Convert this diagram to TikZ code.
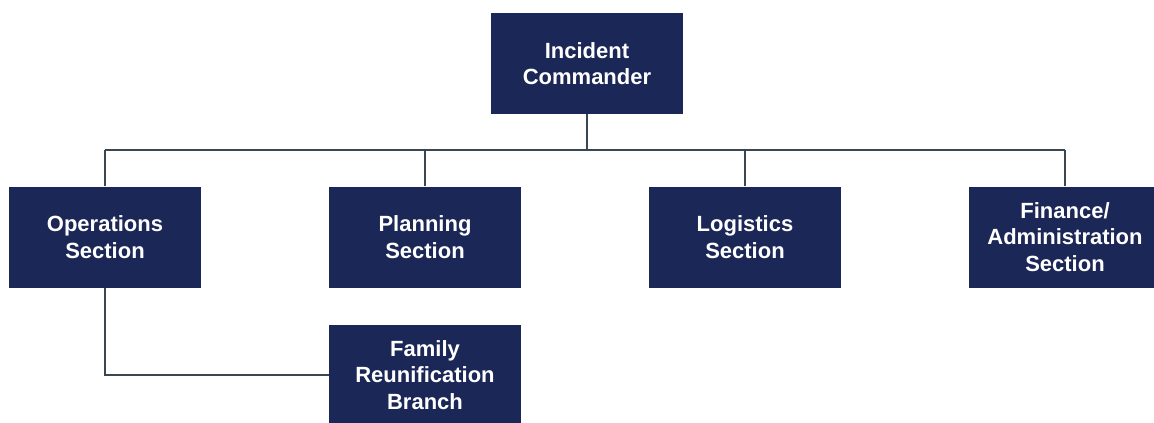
\documentclass[tikz,border=0pt]{standalone}
\usepackage{fontspec}
\setmainfont{Liberation Sans}
\usepackage{tikz}

\definecolor{navy}{HTML}{1B2756}
\definecolor{wire}{HTML}{3A4650}

\tikzset{
    unit/.style={fill=navy, text=white, minimum width=144pt, minimum height=75.75pt,
        align=center, font=\fontsize{16.5}{20}\selectfont\bfseries, inner sep=0pt},
    link/.style={draw=wire, line width=1.6pt}
}

\begin{document}
\begin{tikzpicture}[x=0.75pt, y=-0.75pt]
    \useasboundingbox (0, 0) rectangle (1154, 422);

    \node[unit] (ic) at (587, 63.5) {Incident\\Commander};
    \node[unit] (ops) at (105, 237) {Operations\\Section};
    \node[unit] (plan) at (425, 237) {Planning\\Section};
    \node[unit] (log) at (745, 237) {Logistics\\Section};
    \node[unit] (fin) at (1065, 237) {Finance/\\Administration\\Section};
    \node[unit] (fam) at (425, 375) {Family\\Reunification\\Branch};

    \coordinate (bus) at (587, 150);
    \draw[link] (ic.south) -- (bus);
    \draw[link] (ops.north |- bus) -- (fin.north |- bus);
    \foreach \n in {ops, plan, log, fin}
        \draw[link] (\n.north |- bus) -- (\n.north);
    \draw[link] (ops.south) |- (fam.west);
\end{tikzpicture}
\end{document}
